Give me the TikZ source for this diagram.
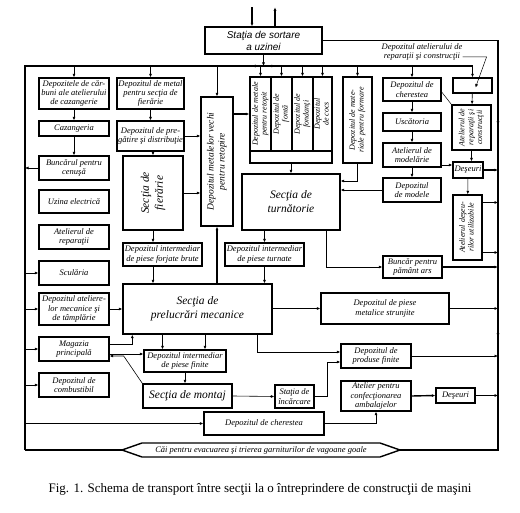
\documentclass[tikz,border=0pt]{standalone}
\usepackage{fontspec}
\setmainfont{Liberation Serif}
\newfontfamily\sortfont{Liberation Sans}
\usetikzlibrary{arrows.meta}
\newcommand\rottext[1]{\rotatebox{90}{\begin{tabular}{@{}c@{}}#1\end{tabular}}}

\begin{document}
\begin{tikzpicture}[x=1pt,y=-1pt,
    box/.style={draw,line width=1.4pt,inner sep=0pt,align=center,font=\fontsize{8.5}{9.2}\selectfont\itshape},
    small/.style={box,font=\fontsize{8}{8.8}\selectfont\itshape},
    big/.style={box,font=\fontsize{11.5}{14}\selectfont\itshape},
    sz/.style 2 args={minimum width=#1pt,minimum height=#2pt},
    link/.style={-{Latex[length=3.5pt,width=3pt]},line width=0.6pt},
    bus/.style={line width=1.5pt}]
  \useasboundingbox (0,0) rectangle (520,513);
  \draw
    (74,93.5) node[box,sz={70}{31}] (0){Depozitele de căr-\\buni ale atelierului\\de cazangerie}
    (74,128.5) node[box,sz={70}{15}] (1){Cazangeria}
    (74,168) node[box,sz={70}{24}] (2){Buncărul pentru\\cenuşă}
    (74,201.5) node[box,sz={70}{23}] (3){Uzina electrică}
    (74,237) node[box,sz={70}{24}] (4){Atelierul de\\reparaţii}
    (74,273) node[box,sz={70}{24}] (5){Sculăria}
    (74,309) node[box,sz={70}{32}] (6){Depozitul ateliere-\\lor mecanice şi\\de tâmplărie}
    (74,349) node[box,sz={70}{24}] (7){Magazia\\principală}
    (74,385) node[box,sz={70}{24}] (8){Depozitul de\\combustibil}
    (150.5,93.5) node[box,sz={67}{31}] (9){Depozitul de metal\\pentru secţia de\\fierărie}
    (150.5,136) node[box,sz={67}{30}] (10){Depozitul de pre-\\gătire şi distribuţie}
    (153,193) node[big,sz={60}{74}] (11){\rottext{Secţia de\\fierărie}}
    (162.5,254.5) node[box,sz={79}{23}] (12){Depozitul intermediar\\de piese forjate brute}
    (217,161.5) node[box,sz={32}{129},font=\fontsize{9.5}{11}\selectfont\itshape] (13){\rottext{Depozitul metalelor vechi\\pentru retopire}}
    (291,120) node[box,sz={82}{86}] (14){}
    (260.5,114) node[small,sz={21}{74}] (15){\rottext{Depozitul de metale\\pentru retopit}}
    (281.5,114) node[small,sz={21}{74}] (16){\rottext{Depozitul de\\fontă}}
    (302.5,114) node[small,sz={21}{74}] (17){\rottext{Depozitul de\\fondanţi}}
    (322.5,114) node[small,sz={19}{74}] (18){\rottext{Depozitul\\de cocs}}
    (357.5,120) node[small,sz={29}{86}] (19){\rottext{Depozitul de mate-\\riale pentru formare}}
    (291,202) node[big,sz={98}{56}] (20){Secţia de\\turnătorie}
    (264.5,254.5) node[box,sz={79}{23}] (21){Depozitul intermediar\\de piese turnate}
    (197.5,309) node[big,sz={149}{50}] (22){Secţia de\\prelucrări mecanice}
    (385,308.5) node[box,sz={128}{31}] (23){Depozitul de piese\\metalice strunjite}
    (412.5,267) node[box,sz={59}{22}] (24){Buncăr pentru\\pământ ars}
    (185,361) node[box,sz={82}{22}] (25){Depozitul intermediar\\de piese finite}
    (187.5,396) node[big,sz={89}{24}] (26){Secţia de montaj}
    (294.5,396.5) node[box,sz={39}{23}] (27){Staţia de\\încărcare}
    (376,356) node[box,sz={70}{24}] (28){Depozitul de\\produse finite}
    (376,396) node[box,sz={70}{30}] (29){Atelier pentru\\confecţionarea\\ambalajelor}
    (455.5,395.5) node[box,sz={39}{15}] (30){Deşeuri}
    (264,423.5) node[box,sz={120}{23}] (31){Depozitul de cherestea}
    (412,89.5) node[box,sz={58}{23}] (32){Depozitul de\\cherestea}
    (412,122) node[box,sz={58}{18}] (33){Uscătoria}
    (412,155) node[box,sz={58}{24}] (34){Atelierul de\\modelărie}
    (412,190) node[box,sz={58}{24}] (35){Depozitul\\de modele}
    (472.5,85.5) node[box,sz={39}{15}] (36){}
    (471.5,127.5) node[small,sz={39}{45}] (37){\rottext{Atelierul de\\reparaţii şi\\construcţii}}
    (468,170) node[box,sz={30}{16}] (38){Deşeuri}
    (467.5,227.5) node[small,sz={29}{65}] (39){\rottext{Atelierul deşeu-\\rilor utilizabile}}
    (263.5,40.5) node[box,sz={117}{27},font=\sortfont\fontsize{10}{12}\selectfont\itshape] (40){Staţia de sortare\\a uzinei}
    (422,52) node[align=center,inner sep=0pt,font=\fontsize{8.5}{9.5}\selectfont\itshape] (41){Depozitul atelierului de\\reparaţii şi construcţii};
  \coordinate (tb) at (25,66);
  \coordinate (rb) at (498,41);
  \coordinate (lbb) at (25,450);
  \coordinate (rbb) at (498,450);
  \coordinate (43) at (122,450);
  \coordinate (44) at (400,450);
  % evacuation path
  \draw[line width=1.4pt] (43) -- (142,443) -- (380,443) -- (44) -- (380,457) -- (142,457) -- cycle;
  \node[font=\fontsize{8.5}{9}\selectfont\itshape] (42) at (261,450) {Căi pentru evacuarea şi trierea garniturilor de vagoane goale};
  \node[font=\fontsize{13}{15}\selectfont] (45) at (260,489) {Fig. 1. Schema de transport între secţii la o întreprindere de construcţii de maşini};
  % buses
  \draw[bus] (lbb) -- (43);
  \draw[bus,link,line width=1.5pt] (43 -| lbb) -- (tb) -- (tb -| 36) -- (36.north);
  \draw[bus] (40.east) -- (40.east -| rb) -- (rbb) -- (44);
  \draw[link] ([xshift=234pt]tb) -- ([xshift=227pt]tb);
  \draw[link] ([xshift=243pt]tb) -- ([xshift=250pt]tb);
  \draw[link] ([yshift=-77pt]rb) -- ([yshift=-84pt]rb);
  \draw[link] ([yshift=-289pt]rb) -- ([yshift=-296pt]rb);
  % sorting station
  \draw[link,line width=1.4pt] ([xshift=-11.5pt,yshift=19pt]40.north) -- ([xshift=-11.5pt]40.north);
  \draw[link,line width=1.4pt] ([xshift=11.5pt]40.north) -- ([xshift=11.5pt,yshift=19pt]40.north);
  \draw[link] (40.south) -- (40.south |- tb);
  % from the top bus
  \draw[link] (0 |- tb) -- (0);
  \draw[link] (9 |- tb) -- (9);
  \draw[link] (13 |- tb) -- (13);
  \draw[link] (15 |- tb) -- (15);
  \draw[link] (16 |- tb) -- (16);
  \draw[link] (17 |- tb) -- (17);
  \draw[link] (18 |- tb) -- (18);
  \draw[link] (19 |- tb) -- (19);
  \draw[link] (32 |- tb) -- (32);
  % left column
  \draw[link] (0) -- (1);
  \draw[link] (1) -- (2);
  \draw[link] (2.west) -- (2.west -| tb);
  \draw[link] (5.west -| tb) -- (5.west);
  \draw[link] (6.west -| tb) -- (6.west);
  \draw[link] (7.west -| tb) -- (7.west);
  \draw[link] (8.west -| tb) -- (8.west);
  \draw[link] (31.west -| tb) -- (31.west);
  \draw[link] (6.east) -- (6.east -| 22.west);
  \draw[link] ([yshift=5pt]7.east) -| ([xshift=10pt]22.south west);
  \draw[link] ([yshift=-5pt]7.east) -- ([yshift=-5pt]7.east -| 25.west);
  \draw[link] (26.north west) -- ([xshift=14pt,yshift=-7pt]7.east) -- ([yshift=-7pt]7.east);
  % forge
  \draw[link] (9) -- (10);
  \draw[link] (11 |- 10.south) -- (11);
  \draw[link] (10.east) -- (10.east -| 13.west);
  \draw[link] (11.east) -- (11.east -| 13.west);
  \draw[link] (11) -- (11 |- 12.north);
  \draw[link] (11 |- 12.south) -- (11 |- 22.north);
  \draw[link,line width=1.4pt] (13.east |- 15) -- (14.west |- 15);
  \draw[link,line width=1.4pt] (13 |- 22.north) -- (13.south);
  % foundry
  \draw[link] (14) -- (20);
  \draw[link] (19.south) |- ([yshift=21pt]20.east);
  \draw[link] (35.west) -- (35.west -| 20.east);
  \draw[link] (21 |- 20.south) -- (21);
  \draw[link] (21) -- (21 |- 22.north);
  \draw[link] ([xshift=35pt]20.south) |- (24.west);
  \draw[link,line width=1.4pt] (24.east) -- (24.east -| rb);
  % machining and assembly
  \draw[link] (22.east |- 23) -- (23.west);
  \draw[link] (23.east) -- (23.east -| rb);
  \draw[link] ([xshift=-35pt]22.south) -- ([xshift=-35pt]22.south |- 25.north);
  \draw[link] ([xshift=7.5pt]22.south) -- ([xshift=7.5pt]22.south |- 25.north);
  \draw[link] (25.south) -- (25.south |- 26.north);
  \draw[link] (26.east) -- (27.west);
  \draw[link] (27.east) -- ++(13,0) |- ([yshift=-6pt]28.west);
  \draw[link] ([xshift=59.5pt]22.south) |- ([yshift=4pt]28.west);
  \draw[link] (28.east) -- (28.east -| rb);
  \draw[link,line width=1.4pt] (29.east) -- (30.west);
  \draw[link] (30.east) -- (30.east -| rb);
  \draw[link] (31.east) -| (29.south);
  % timber and repairs
  \draw[link] (32) -- (33);
  \draw[link] (33) -- (34);
  \draw[link] (34) -- (35);
  \draw[link] ([yshift=-10pt]34.east) -- ([yshift=-10pt]34.east -| 38.west);
  \draw[link,line width=1.4pt] (38.east) -- (38.east -| rb);
  \draw[link] (38) -- (39);
  \draw[link] ([yshift=25pt]39.east) -- ([yshift=25pt]39.east -| rb);
  \draw[link] ([yshift=-25pt]39.east) -- ([yshift=-25pt]39.east -| rb);
  \draw[link] (36) -- (37);
  \draw[link] (37.south) -- (37.south |- 38.north);
  \draw[line width=0.5pt] ([yshift=-2.5pt]32.east) -- (37.north west);
  \draw[link,line width=0.5pt] ([yshift=-5pt]41.east) -- ++(24,0) -- ([xshift=3pt,yshift=-2pt]36.center);
\end{tikzpicture}
\end{document}
